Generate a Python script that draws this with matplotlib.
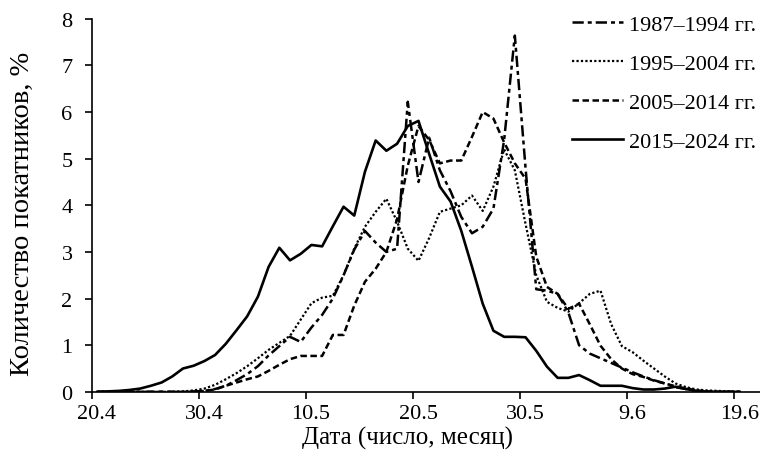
import matplotlib
matplotlib.use("Agg")
import matplotlib.pyplot as plt
import matplotlib.transforms as mtransforms
import numpy as np

# tick labels on the date axis (every 10 days)
date_labels = ['20.4', '30.4', '10.5', '20.5', '30.5', '9.6', '19.6']

# daily share of downstream migrants, %
p1987_1994 = [0, 0, 0, 0, 0, 0, 0, 0, 0, 0.01,
              0.02, 0.06, 0.13, 0.25, 0.38, 0.55, 0.78, 0.98, 1.18, 1.07,
              1.38, 1.65, 2.0, 2.5, 3.05, 3.45, 3.2, 3.0, 3.07, 6.22,
              4.5, 5.45, 4.75, 4.3, 3.75, 3.4, 3.54, 3.93, 5.4, 7.64,
              4.8, 2.2, 2.17, 2.1, 1.7, 1.0, 0.82, 0.72, 0.62, 0.52,
              0.42, 0.33, 0.25, 0.18, 0.1, 0.06, 0.02, 0, 0, 0, 0]
p1995_2004 = [0, 0, 0, 0, 0, 0, 0, 0, 0.01, 0.03,
              0.07, 0.15, 0.27, 0.4, 0.55, 0.72, 0.9, 1.05, 1.2, 1.55,
              1.9, 2.02, 2.06, 2.5, 3.07, 3.54, 3.86, 4.14, 3.65, 3.07,
              2.81, 3.3, 3.86, 3.93, 4.0, 4.21, 3.88, 4.4, 5.2, 4.75,
              3.6, 2.5, 1.93, 1.8, 1.72, 1.9, 2.1, 2.17, 1.45, 0.98,
              0.85, 0.67, 0.5, 0.33, 0.18, 0.1, 0.05, 0.03, 0.02, 0.01, 0]
p2005_2014 = [0, 0, 0, 0, 0, 0, 0, 0, 0, 0,
              0.02, 0.05, 0.13, 0.2, 0.27, 0.33, 0.45, 0.58, 0.7, 0.77,
              0.77, 0.77, 1.22, 1.22, 1.85, 2.36, 2.64, 3.0, 3.7, 4.85,
              5.7, 5.4, 4.9, 4.96, 4.96, 5.47, 6.0, 5.86, 5.35, 4.9,
              4.57, 2.9, 2.25, 2.1, 1.78, 1.89, 1.45, 0.99, 0.7, 0.5,
              0.38, 0.32, 0.24, 0.18, 0.12, 0.07, 0.03, 0.01, 0, 0, 0]
p2015_2024 = [0, 0.01, 0.02, 0.04, 0.07, 0.13, 0.2, 0.33, 0.5, 0.56,
              0.66, 0.79, 1.03, 1.32, 1.62, 2.04, 2.68, 3.09, 2.82, 2.96,
              3.15, 3.12, 3.55, 3.97, 3.78, 4.72, 5.39, 5.17, 5.32, 5.7,
              5.81, 5.1, 4.4, 4.08, 3.45, 2.68, 1.89, 1.31, 1.18, 1.18,
              1.17, 0.88, 0.54, 0.3, 0.3, 0.36, 0.25, 0.13, 0.13, 0.13,
              0.08, 0.05, 0.05, 0.07, 0.11, 0.06, 0.02, 0, 0, 0, 0]

plt.rcParams['font.family'] = ['Liberation Serif', 'DejaVu Serif']
plt.rcParams['font.size'] = 16

days = np.arange(len(p2015_2024)) + 0.5

fig = plt.figure(figsize=(7.6, 4.6), dpi=100)
ax = fig.add_axes([0.121, 0.146, 0.879, 0.811])

ax.plot(days, p1987_1994, color='black', lw=1.8, dashes=(4.5, 1.6, 1.6, 1.6),
        label='1987–1994 гг.')
ax.plot(days, p1995_2004, color='black', lw=1.6, dashes=(1, 1),
        label='1995–2004 гг.')
ax.plot(days, p2005_2014, color='black', lw=1.8, dashes=(2.6, 1.4),
        label='2005–2014 гг.')
ax.plot(days, p2015_2024, color='black', lw=1.9, label='2015–2024 гг.')

ax.set_xlim(0, 62.4)
ax.set_ylim(0, 8)
ax.set_xticks(range(0, 61, 10))
ax.set_xticklabels(date_labels)
ax.set_yticks(range(0, 9))
ax.tick_params(direction='out', length=5, width=1.2, colors='black')
ax.tick_params(axis='x', pad=4)
ax.tick_params(axis='y', pad=9)
for side in ['top', 'right']:
    ax.spines[side].set_visible(False)
for side in ['left', 'bottom']:
    ax.spines[side].set_linewidth(1.2)

# date labels sit a little to the right of their ticks, as in the original
shift = mtransforms.ScaledTranslation(0.05, 0, fig.dpi_scale_trans)
for lbl in ax.get_xticklabels():
    lbl.set_transform(lbl.get_transform() + shift)

ax.set_xlabel('Дата (число, месяц)', fontsize=18)
ax.xaxis.set_label_coords(0.472, -0.092)
ax.set_ylabel('Количество покатников, %', fontsize=20.5)
ax.yaxis.set_label_coords(-0.086, 0.48)

ax.legend(loc='upper right', bbox_to_anchor=(1.007, 1.035), frameon=False,
          handlelength=2.3, handletextpad=0.25, labelspacing=0.83,
          borderaxespad=0.0)

fig.savefig('out.png', dpi=100)
